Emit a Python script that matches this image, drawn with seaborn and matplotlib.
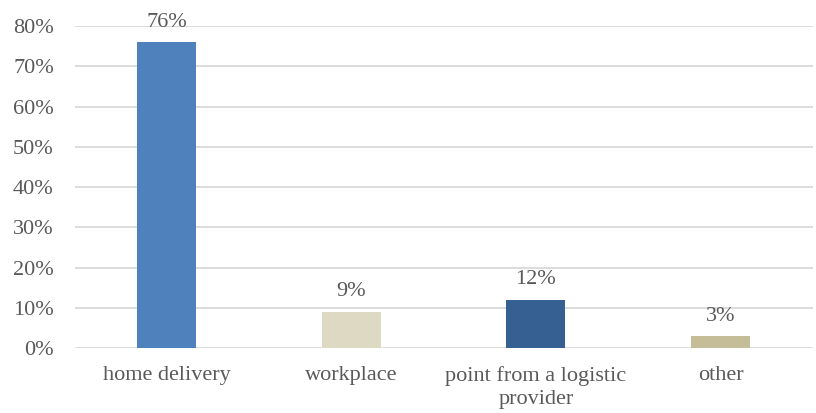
import matplotlib
matplotlib.use("Agg")
import matplotlib.pyplot as plt
import pandas as pd
import seaborn as sns

# =========================================================
# Data
# =========================================================

categories = ["home delivery", "workplace", "point from a logistic\nprovider", "other"]
shares = [76, 9, 12, 3]
bar_colors = ["#4F81BD", "#DDD9C3", "#376092", "#C4BD97"]
y_ticks = [0, 10, 20, 30, 40, 50, 60, 70, 80]

TEXT_COLOR = "#595959"
FONT_SIZE = 16

# =========================================================
# Plot
# =========================================================

sns.set_theme(style="white")
plt.rcParams["font.family"] = ["Liberation Serif", "DejaVu Serif"]

df = pd.DataFrame({"category": categories, "share": shares})

fig = plt.figure(figsize=(8.16, 4.13), dpi=100)
ax = fig.add_axes([0.0915, 0.157, 0.9045, 0.78])

sns.barplot(
    data=df,
    x="category",
    y="share",
    hue="category",
    palette=bar_colors,
    saturation=1,
    legend=False,
    width=0.32,
    linewidth=0,
    ax=ax,
    zorder=3,
)

for p, v in zip(ax.patches, shares):
    ax.text(
        p.get_x() + p.get_width() / 2,
        p.get_height() + 2.6,
        f"{v}%",
        ha="center",
        va="bottom",
        fontsize=FONT_SIZE,
        color=TEXT_COLOR,
    )

ax.set_ylim(0, 80)
ax.set_yticks(y_ticks)
ax.set_yticklabels([f"{t}%" for t in y_ticks])
ax.set_xlim(-0.5, len(categories) - 0.5)
ax.yaxis.grid(True, color="#D9D9D9", linewidth=1.3, zorder=0)
ax.set_axisbelow(True)

for s in ax.spines.values():
    s.set_visible(False)

ax.tick_params(axis="both", length=0, labelsize=FONT_SIZE, colors=TEXT_COLOR)
ax.tick_params(axis="x", pad=13)
ax.tick_params(axis="y", pad=15)
ax.set_xlabel("")
ax.set_ylabel("")
for lbl in ax.get_xticklabels():
    lbl.set_linespacing(1.3)

fig.savefig("out.png", dpi=100)
